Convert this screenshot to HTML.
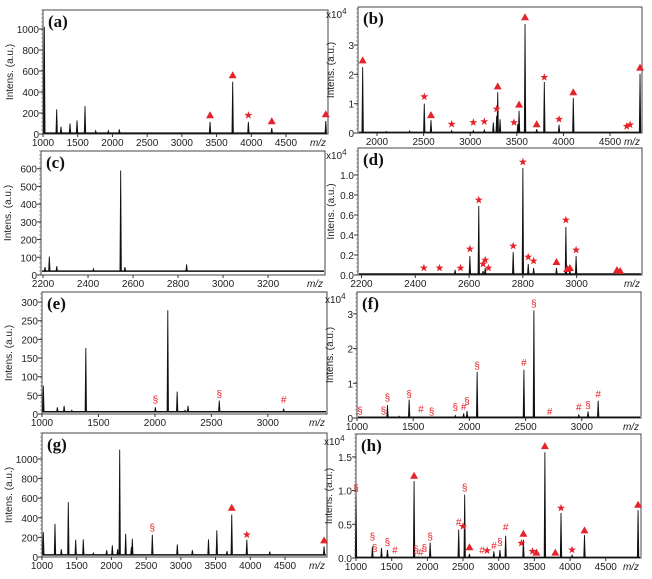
<!DOCTYPE html>
<html><head><meta charset="utf-8"><style>
html,body{margin:0;padding:0;background:#fff;}
svg{display:block;font-family:"Liberation Sans",sans-serif;}
</style></head><body>
<svg id="fig" width="652" height="579" viewBox="0 0 652 579" xmlns="http://www.w3.org/2000/svg"></svg>
<script>
// ---------- data (m/z, intensity) ----------
const aMz=[1019,1197,1259,1389,1490,1605,1759,1941,2099,3406,3732,3958,4295,5073];
const aInt=[1020,235,70,100,130,265,30,30,45,115,497,115,57,124];
const aMkMz=[3406,3732,3958,4295,5073];
const aMkY=[178,560,178,121,188];
const aMkT=['t','t','s','t','t'];

const bMz=[1846,2100,2350,2507,2579,2801,3033,3151,3248,3284,3295,3320,3510,3524,3588,3713,3795,3953,4106,4690,4822];
const bInt=[2.25,0.05,0.07,1.0,0.44,0.08,0.08,0.1,0.36,0.59,1.39,0.47,0.3,0.76,3.72,0.13,1.74,0.28,1.2,0.04,2.02];
const bMkMz=[1846,2507,2579,2801,3033,3151,3284,3295,3470,3524,3588,3713,3795,3953,4106,4679,4715,4822];
const bMkY=[2.48,1.24,0.61,0.3,0.36,0.39,0.82,1.59,0.36,0.97,3.95,0.3,1.9,0.47,1.39,0.23,0.28,2.23];
const bMkT=['t','s','t','s','s','s','s','t','s','t','t','t','s','s','t','s','s','t'];

const cMz=[2209,2228,2261,2424,2545,2564,2838];
const cInt=[45,104,50,35,590,45,60];
const cMkMz=[],cMkY=[],cMkT=[];

const dMz=[2548,2603,2636,2652,2660,2764,2800,2820,2840,2925,2960,2975,2998];
const dInt=[0.05,0.19,0.69,0.04,0.07,0.23,1.07,0.11,0.07,0.07,0.48,0.04,0.19];
const dMkMz=[2432,2490,2568,2603,2636,2652,2660,2672,2764,2800,2820,2840,2925,2960,2965,2975,2998,3150,3162];
const dMkY=[0.07,0.07,0.07,0.26,0.75,0.11,0.15,0.07,0.29,1.13,0.18,0.14,0.13,0.55,0.06,0.07,0.25,0.05,0.04];
const dMkT=['s','s','s','s','s','s','s','s','s','s','s','s','t','s','t','t','s','t','t'];

const eMz=[1012,1136,1196,1264,1388,2004,2114,2197,2267,2293,2570,3140];
const eInt=[76,18,22,10,177,18,278,60,10,22,36,14];
const eMkMz=[2004,2570,3140];
const eMkY=[38,52,38];
const eMkT=['g','g','h'];

const fMz=[1271,1375,1464,1875,1949,1979,2069,2485,2574,2973,3056,3146];
const fInt=[0.37,0.05,0.53,0.07,0.13,0.2,1.33,1.39,3.1,0.1,0.19,0.5];
const fMkMz=[1027,1235,1271,1464,1569,1663,1875,1949,1979,2069,2485,2574,2714,2973,3056,3146];
const fMkY=[0.2,0.2,0.58,0.68,0.24,0.18,0.3,0.32,0.48,1.5,1.58,3.28,0.17,0.3,0.36,0.68];
const fMkT=['g','g','g','g','h','g','g','h','g','g','h','g','h','h','g','h'];

const gMz=[1019,1187,1278,1379,1485,1595,1740,1932,2013,2090,2119,2205,2287,2301,2589,2949,3166,3398,3518,3665,3733,3950,4280,5063];
const gInt=[254,339,80,560,176,180,40,70,119,80,1095,237,100,186,227,129,70,180,271,60,434,176,55,108];
const gMkMz=[2589,3733,3950,5063];
const gMkY=[298,502,227,170];
const gMkT=['g','t','s','t'];

const hMz=[1000,1230,1357,1441,1814,2039,2439,2523,2590,2932,3017,3097,3346,3647,3873,4028,4202,4953];
const hInt=[0.92,0.17,0.15,0.12,1.14,0.23,0.42,0.94,0.06,0.1,0.12,0.33,0.27,1.57,0.67,0.04,0.34,0.71];
const hMkMz=[1000,1230,1262,1441,1546,1814,1842,1907,1959,2039,2439,2499,2523,2590,2767,2837,2932,3017,3097,3318,3346,3473,3529,3647,3793,3873,4028,4202,4953];
const hMkY=[1.03,0.31,0.14,0.23,0.11,1.22,0.12,0.08,0.14,0.31,0.53,0.47,1.04,0.16,0.11,0.11,0.18,0.23,0.45,0.22,0.36,0.1,0.08,1.66,0.08,0.74,0.12,0.41,0.79];
const hMkT=['g','g','g','g','h','t','g','h','g','g','h','s','g','t','h','s','h','g','h','s','t','s','t','t','t','s','s','t','t'];

// ticks
const aXT=[1000,1500,2000,2500,3000,3500,4000,4500], aYT=[0,200,400,600,800,1000];
const bXT=[2000,2500,3000,3500,4000,4500], bYT=[0,1,2,3];
const cXT=[2200,2400,2600,2800,3000,3200], cYT=[0,100,200,300,400,500,600];
const dXT=[2200,2400,2600,2800,3000], dYT=[0,0.2,0.4,0.6,0.8,1.0];
const eXT=[1000,1500,2000,2500,3000], eYT=[0,50,100,150,200,250,300];
const fXT=[1000,1500,2000,2500,3000], fYT=[0,1,2,3];
const gXT=aXT, gYT=aYT;
const hXT=[1000,1500,2000,2500,3000,3500,4000,4500], hYT=[0,0.5,1.0,1.5];

const NS="http://www.w3.org/2000/svg";
const svg=document.getElementById('fig');
function mk(tag,attrs,parent){const e=document.createElementNS(NS,tag);for(const k in attrs)e.setAttribute(k,attrs[k]);(parent||svg).appendChild(e);return e;}
const RED="#e5232b";

function panel(id,L,R,T,B,x0,x1,y1,mz,inten,base,mkMz,mkY,mkT,xt,yt,ydec,exp){
  const g=mk('g',{});
  
  
  const X=v=>L+(v-x0)/(x1-x0)*(R-L);
  const Y=v=>B-v/y1*(B-T);
  const box=mk('rect',{x:L,y:T,width:R-L,height:B-T,fill:'none',stroke:'#444','stroke-width':1},g);
  
  
  const bl=mk('line',{x1:L+1,x2:R-1,y1:Y(base),y2:Y(base),stroke:'#111','stroke-width':1.5},g);
  
  
  for(let i=0;i<mz.length;i++){
    const x=X(mz[i]);
    const p=mk('path',{d:`M${x-0.7},${Y(base)} L${x},${Y(inten[i])} L${x+0.7},${Y(base)} Z`,fill:'#111',stroke:'#111','stroke-width':0.9},g);
    
    
  }
  for(let i=0;i<mkMz.length;i++){
    const x=X(mkMz[i]),y=Y(mkY[i]);let m;
    if(mkT[i]==='t'){m=mk('path',{d:`M${x},${y-4} L${x+4},${y+3} L${x-4},${y+3} Z`,fill:RED},g);}
    else if(mkT[i]==='s'){let d='';for(let k=0;k<10;k++){const r=k%2?1.7:4.2,a=-Math.PI/2+k*Math.PI/5;d+=(k?'L':'M')+(x+r*Math.cos(a)).toFixed(1)+','+(y+r*Math.sin(a)).toFixed(1);}m=mk('path',{d:d+'Z',fill:RED},g);}
    else {m=mk('text',{x:x,y:y+3,'text-anchor':'middle','font-size':10,fill:RED},g);m.textContent=mkT[i]==='g'?'§':'#';}
    
    
  }
  for(const v of xt){const x=X(v);
    mk('line',{x1:x,x2:x,y1:B,y2:B+3,stroke:'#333'},g);
    const t=mk('text',{x:x,y:B+12,'text-anchor':'middle','font-size':10,fill:'#222'},g);
    
    
    t.textContent=v;}
  for(let y=B;y>=T;y-=4){mk('line',{x1:L-2,x2:L,y1:y,y2:y,stroke:'#666','stroke-width':0.6},g);}
  for(const v of yt){const y=Y(v);
    mk('line',{x1:L-4,x2:L,y1:y,y2:y,stroke:'#333'},g);
    const t=mk('text',{x:L-4,y:y+4,'text-anchor':'end','font-size':10,fill:'#222'},g);
    
    
    t.textContent=v.toFixed(ydec);}
  const mzl=mk('text',{x:R-10,y:B+12,'text-anchor':'middle','font-size':10,'font-style':'italic',fill:'#222'},g);
  
  
  mzl.textContent='m/z';
  const yl=mk('text',{x:0,y:0,'text-anchor':'middle','font-size':10,fill:'#222',transform:`translate(${L-(exp?24:30)},${(T+B)/2}) rotate(-90)`},g);
  
  
  yl.textContent='Intens. (a.u.)';
  if(exp){const e=mk('text',{x:L-32,y:T+11,'font-size':10,fill:'#222'},g);
    
    
    e.innerHTML='x10<tspan dy="-4" font-size="8">4</tspan>';}
  const pl=mk('text',{x:L+5,y:T+17,'font-size':17,'font-weight':'bold','font-family':'"Liberation Serif",serif',fill:'#111'},g);
  
  
  pl.textContent='('+id+')';
}
panel('a',43,328,10,134,1000,5105,1181,aMz,aInt,8,aMkMz,aMkY,aMkT,aXT,aYT,0,false);
panel('b',358,642,7,133,1796,4843,4.3,bMz,bInt,0.02,bMkMz,bMkY,bMkT,bXT,bYT,0,true);
panel('c',41,325,151,275,2191,3453,700,cMz,cInt,22,cMkMz,cMkY,cMkT,cXT,cYT,0,false);
panel('d',358,642,148,275,2187,3243,1.27,dMz,dInt,0.01,dMkMz,dMkY,dMkT,dXT,dYT,1,true);
panel('e',42,327,292,414,1000,3524,327,eMz,eInt,6,eMkMz,eMkY,eMkT,eXT,eYT,0,false);
panel('f',357,641,292,418,1000,3527,3.63,fMz,fInt,0.02,fMkMz,fMkY,fMkT,fXT,fYT,0,true);
panel('g',42,327,433,557,1000,5105,1265,gMz,gInt,22,gMkMz,gMkY,gMkT,gXT,gYT,0,false);
panel('h',356,641,434,558,1000,4994,1.84,hMz,hInt,0.01,hMkMz,hMkY,hMkT,hXT,hYT,1,true);
</script>
</body></html>
